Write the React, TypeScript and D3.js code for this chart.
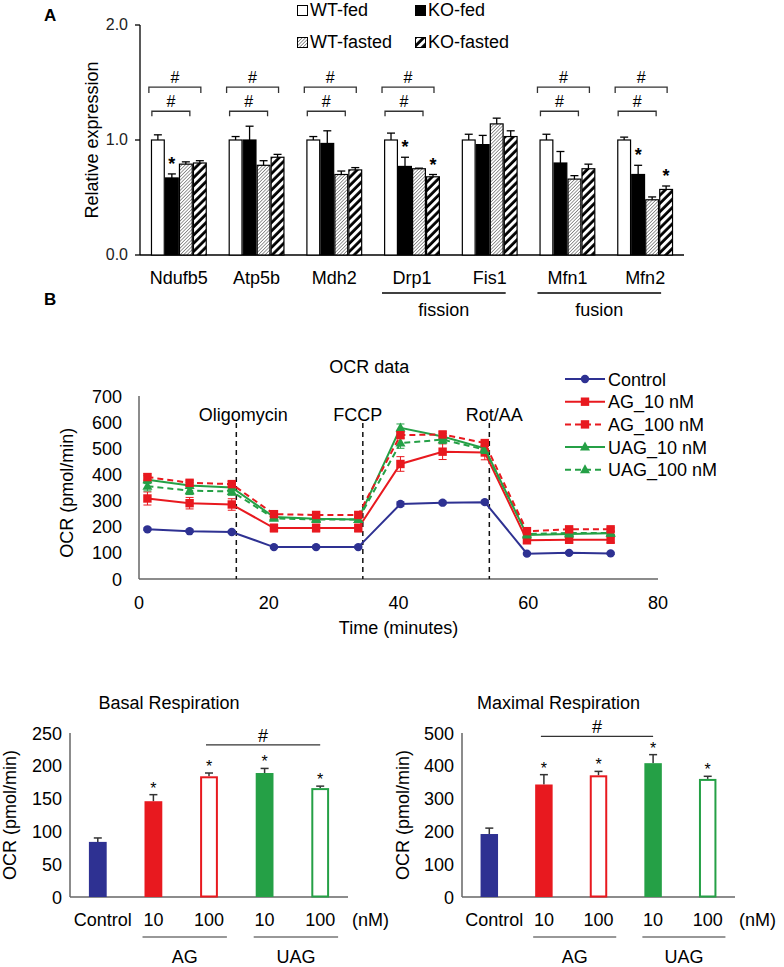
import React from 'react';
import * as d3 from 'd3';

// ---------- Panel A data ----------
const genes = ['Ndufb5', 'Atp5b', 'Mdh2', 'Drp1', 'Fis1', 'Mfn1', 'Mfn2'];
const groupsA = ['WT-fed', 'KO-fed', 'WT-fasted', 'KO-fasted'];
const wtFed = [1.0, 1.0, 1.0, 1.0, 1.0, 1.0, 1.0];
const wtFedErr = [0.045, 0.03, 0.03, 0.06, 0.05, 0.05, 0.025];
const koFed = [0.67, 1.0, 0.97, 0.77, 0.96, 0.8, 0.7];
const koFedErr = [0.035, 0.12, 0.11, 0.08, 0.08, 0.1, 0.08];
const wtFasted = [0.79, 0.78, 0.7, 0.75, 1.14, 0.66, 0.48];
const wtFastedErr = [0.02, 0.04, 0.03, 0.005, 0.05, 0.03, 0.025];
const koFasted = [0.8, 0.85, 0.74, 0.68, 1.03, 0.75, 0.57];
const koFastedErr = [0.02, 0.025, 0.02, 0.02, 0.05, 0.04, 0.03];
const koFedSig = [true, false, false, true, false, false, true];
const koFastedSig = [false, false, false, true, false, false, true];
const hashGenes = ['Ndufb5', 'Atp5b', 'Mdh2', 'Drp1', 'Mfn1', 'Mfn2'];
const yTicksA = [0, 1, 2];
const geneGroups = [
  { label: 'fission', genes: ['Drp1', 'Fis1'] },
  { label: 'fusion', genes: ['Mfn1', 'Mfn2'] },
];

// ---------- Panel B data ----------
const times = [1.3, 7.8, 14.3, 20.8, 27.3, 33.8, 40.3, 46.8, 53.3, 59.8, 66.3, 72.7];
const control = [190, 183, 180, 122, 122, 122, 287, 292, 294, 97, 100, 98];
const controlErr = [5, 5, 5, 4, 4, 4, 8, 6, 6, 4, 4, 4];
const ag10 = [308, 290, 285, 195, 195, 195, 440, 487, 484, 148, 150, 150];
const ag10Err = [25, 22, 22, 15, 15, 15, 28, 30, 28, 10, 10, 10];
const ag100 = [390, 368, 363, 248, 245, 245, 550, 553, 520, 183, 190, 190];
const ag100Err = [12, 10, 10, 8, 8, 8, 12, 10, 10, 6, 6, 6];
const uag10 = [380, 358, 350, 237, 230, 228, 578, 545, 500, 168, 172, 175];
const uag10Err = [15, 12, 12, 8, 8, 8, 15, 12, 12, 6, 6, 6];
const uag100 = [355, 338, 335, 232, 228, 228, 520, 533, 495, 172, 176, 176];
const uag100Err = [18, 15, 15, 8, 8, 8, 20, 15, 15, 6, 6, 6];
const injectionTimes = [15, 34.5, 54];
const injectionLabels = ['Oligomycin', 'FCCP', 'Rot/AA'];
const xTicksB = [0, 20, 40, 60, 80];
const yTicksB = [0, 100, 200, 300, 400, 500, 600, 700];

// ---------- Bottom panels data ----------
const treatments = ['Control', 'AG_10', 'AG_100', 'UAG_10', 'UAG_100'];
const doseLabels = ['Control', '10', '100', '10', '100'];
const basal = [84, 146, 184, 189, 166];
const basalErr = [6, 10, 5, 7, 3];
const maximal = [192, 343, 371, 408, 360];
const maximalErr = [18, 30, 12, 26, 8];
const bottomSig = [false, true, true, true, true];
const basalTicks = [0, 50, 100, 150, 200, 250];
const maximalTicks = [0, 100, 200, 300, 400, 500];

const BLUE = '#2e3192';
const RED = '#e8191f';
const GREEN = '#25a046';
const FONT = 'Liberation Sans, Arial, Helvetica, sans-serif';

const treatmentColor = [BLUE, RED, RED, GREEN, GREEN];
const treatmentHollow = [false, false, true, false, true];

function PanelA() {
  const xA = d3.scaleBand<string>().domain(genes).range([140, 684]).paddingInner(0.28).paddingOuter(0.14);
  const xAi = d3.scaleBand<string>().domain(groupsA).range([0, xA.bandwidth()]);
  const yA = d3.scaleLinear().domain([0, 2]).range([255, 25]);
  const series = [
    { key: 'WT-fed', vals: wtFed, errs: wtFedErr, fill: '#fff', sig: null as boolean[] | null },
    { key: 'KO-fed', vals: koFed, errs: koFedErr, fill: '#000', sig: koFedSig },
    { key: 'WT-fasted', vals: wtFasted, errs: wtFastedErr, fill: 'url(#fineHatch)', sig: null },
    { key: 'KO-fasted', vals: koFasted, errs: koFastedErr, fill: 'url(#thickHatch)', sig: koFastedSig },
  ];
  const bw = xAi.bandwidth();
  const legendPos = [
    { x: 297, y: 16 },
    { x: 415, y: 16 },
    { x: 297, y: 48 },
    { x: 415, y: 48 },
  ];
  return (
    <g fontFamily={FONT}>
      <text x={44} y={21} fontSize={17} fontWeight="bold">A</text>
      {/* legend */}
      {series.map((s, i) => (
        <g key={s.key}>
          <rect x={legendPos[i].x + 0.5} y={legendPos[i].y - 10.5} width={10} height={10} fill={s.fill} stroke="#000" strokeWidth={1} />
          <text x={legendPos[i].x + 13} y={legendPos[i].y} fontSize={18}>{s.key}</text>
        </g>
      ))}
      {/* axes */}
      <line x1={140} x2={140} y1={yA(2)} y2={yA(0)} stroke="#000" strokeWidth={1.3} />
      <line x1={140} x2={684} y1={yA(0)} y2={yA(0)} stroke="#000" strokeWidth={1.3} />
      {yTicksA.map((t) => (
        <g key={t}>
          <line x1={135} x2={140} y1={yA(t)} y2={yA(t)} stroke="#000" strokeWidth={1.3} />
          <text x={128} y={yA(t) + 5} fontSize={16} textAnchor="end" fill="#222">{t.toFixed(1)}</text>
        </g>
      ))}
      <text transform={`translate(98,${yA(1)}) rotate(-90)`} textAnchor="middle" fontSize={18}>Relative expression</text>
      {/* bars */}
      {genes.map((g, gi) => (
        <g key={g}>
          {series.map((s) => {
            const x = (xA(g) as number) + (xAi(s.key) as number);
            const v = s.vals[gi];
            const top = yA(v + s.errs[gi]);
            return (
              <g key={s.key}>
                <line x1={x + bw / 2} x2={x + bw / 2} y1={yA(v)} y2={top} stroke="#000" strokeWidth={1.3} />
                <line x1={x + bw / 2 - 4} x2={x + bw / 2 + 4} y1={top} y2={top} stroke="#000" strokeWidth={1.3} />
                <rect x={x + 0.6} y={yA(v)} width={bw - 1.2} height={yA(0) - yA(v)} fill={s.fill} stroke="#000" strokeWidth={1.2} />
                {s.sig && s.sig[gi] ? (
                  <text x={x + bw / 2} y={top - 4} textAnchor="middle" fontSize={18} fontWeight="bold">*</text>
                ) : null}
              </g>
            );
          })}
          <text x={(xA(g) as number) + xA.bandwidth() / 2} y={284} textAnchor="middle" fontSize={18}>{g}</text>
        </g>
      ))}
      {/* significance brackets */}
      {hashGenes.map((g) => {
        const g0 = xA(g) as number;
        const oy = yA(1.46);
        const iy = yA(1.25);
        const ox2 = g0 + (xAi('KO-fasted') as number) + bw / 2 + 1;
        const ix2 = g0 + (xAi('WT-fasted') as number) + bw / 2 + 4;
        return (
          <g key={g} stroke="#333" strokeWidth={1.3} fill="none">
            <path d={`M${g0 - 2},${oy + 6}V${oy}H${ox2}V${oy + 6}`} />
            <path d={`M${g0 + 1},${iy + 5}V${iy}H${ix2}V${iy + 5}`} />
            <text x={(g0 - 2 + ox2) / 2} y={oy - 4} textAnchor="middle" fontSize={16} fill="#000" stroke="none">#</text>
            <text x={(g0 + 1 + ix2) / 2} y={iy - 4} textAnchor="middle" fontSize={16} fill="#000" stroke="none">#</text>
          </g>
        );
      })}
      {/* gene groups */}
      {geneGroups.map((gg) => {
        const a = (xA(gg.genes[0]) as number) - 2;
        const b = (xA(gg.genes[gg.genes.length - 1]) as number) + xA.bandwidth() - 12;
        return (
          <g key={gg.label}>
            <line x1={a} x2={b} y1={293} y2={293} stroke="#000" strokeWidth={1.3} />
            <text x={(a + b) / 2} y={316} textAnchor="middle" fontSize={18}>{gg.label}</text>
          </g>
        );
      })}
    </g>
  );
}

function Marker({ type, x, y, color }: { type: string; x: number; y: number; color: string }) {
  if (type === 'circle') return <circle cx={x} cy={y} r={4.2} fill={color} />;
  if (type === 'square') return <rect x={x - 4.2} y={y - 4.2} width={8.4} height={8.4} fill={color} />;
  return <path d={`M${x},${y - 5.5}L${x + 5},${y + 3.5}L${x - 5},${y + 3.5}Z`} fill={color} />;
}

function PanelB() {
  const x = d3.scaleLinear().domain([0, 80]).range([139, 658]);
  const y = d3.scaleLinear().domain([0, 700]).range([579, 396]);
  const series = [
    { key: 'Control', vals: control, errs: controlErr, color: BLUE, dash: null as string | null, marker: 'circle' },
    { key: 'AG_10 nM', vals: ag10, errs: ag10Err, color: RED, dash: null, marker: 'square' },
    { key: 'AG_100 nM', vals: ag100, errs: ag100Err, color: RED, dash: '6,4', marker: 'square' },
    { key: 'UAG_10 nM', vals: uag10, errs: uag10Err, color: GREEN, dash: null, marker: 'triangle' },
    { key: 'UAG_100 nM', vals: uag100, errs: uag100Err, color: GREEN, dash: '6,4', marker: 'triangle' },
  ];
  const drawOrder = [0, 1, 3, 4, 2];
  const line = d3.line<number>().x((_, i) => x(times[i])).y((d) => y(d));
  return (
    <g fontFamily={FONT}>
      <text x={44} y={305} fontSize={17} fontWeight="bold">B</text>
      <text x={x(35.5)} y={373} textAnchor="middle" fontSize={18}>OCR data</text>
      {/* axes */}
      <line x1={139} x2={139} y1={y(700)} y2={y(0)} stroke="#666" strokeWidth={1.5} />
      <line x1={139} x2={x(80)} y1={y(0)} y2={y(0)} stroke="#666" strokeWidth={1.5} />
      {yTicksB.map((t) => (
        <text key={t} x={122} y={y(t) + 6.5} textAnchor="end" fontSize={18}>{t}</text>
      ))}
      {xTicksB.map((t) => (
        <text key={t} x={x(t)} y={609} textAnchor="middle" fontSize={18}>{t}</text>
      ))}
      <text x={x(40)} y={634} textAnchor="middle" fontSize={18}>Time (minutes)</text>
      <text transform={`translate(73,${y(330)}) rotate(-90)`} textAnchor="middle" fontSize={18}>OCR (pmol/min)</text>
      {/* injections */}
      {injectionTimes.map((t, i) => (
        <g key={t}>
          <line x1={x(t)} x2={x(t)} y1={423} y2={y(0)} stroke="#111" strokeWidth={1.5} strokeDasharray="5,4" />
          <text x={x(t) + (i === 0 ? 7 : i === 1 ? -5 : 5)} y={421} textAnchor="middle" fontSize={18}>{injectionLabels[i]}</text>
        </g>
      ))}
      {/* series */}
      {drawOrder.map((si) => {
        const s = series[si];
        return (
          <g key={s.key}>
            {s.vals.map((v, i) => (
              <g key={i} stroke={s.color} strokeWidth={1}>
                <line x1={x(times[i])} x2={x(times[i])} y1={y(v - s.errs[i])} y2={y(v + s.errs[i])} />
                <line x1={x(times[i]) - 4} x2={x(times[i]) + 4} y1={y(v - s.errs[i])} y2={y(v - s.errs[i])} />
                <line x1={x(times[i]) - 4} x2={x(times[i]) + 4} y1={y(v + s.errs[i])} y2={y(v + s.errs[i])} />
              </g>
            ))}
            <path d={line(s.vals) || ''} fill="none" stroke={s.color} strokeWidth={2} strokeDasharray={s.dash || undefined} />
            {s.vals.map((v, i) => (
              <Marker key={i} type={s.marker} x={x(times[i])} y={y(v)} color={s.color} />
            ))}
          </g>
        );
      })}
      {/* legend */}
      {series.map((s, i) => {
        const ly = 379 + i * 22.7;
        return (
          <g key={s.key}>
            <line x1={565} x2={605} y1={ly} y2={ly} stroke={s.color} strokeWidth={2} strokeDasharray={s.dash || undefined} />
            <Marker type={s.marker} x={585} y={ly} color={s.color} />
            <text x={608} y={ly + 6.5} fontSize={18}>{s.key}</text>
          </g>
        );
      })}
    </g>
  );
}

function BottomChart({ x0, x1, values, errs, ticks, title, hashFrom, hashTo, hashLevel, labelX }: {
  x0: number; x1: number; values: number[]; errs: number[]; ticks: number[]; title: string;
  hashFrom: string; hashTo: string; hashLevel: number; labelX: number;
}) {
  const xs = d3.scaleBand<string>().domain(treatments).range([x0, x1]).paddingInner(0.68).paddingOuter(0.34);
  const ys = d3.scaleLinear().domain([0, ticks[ticks.length - 1]]).range([897, 733]);
  const bw = xs.bandwidth();
  const cx = (k: string) => (xs(k) as number) + bw / 2;
  const hy = ys(hashLevel);
  return (
    <g fontFamily={FONT}>
      <text x={(x0 + x1) / 2 - 40} y={709} textAnchor="middle" fontSize={18}>{title}</text>
      <line x1={x0} x2={x0} y1={733} y2={897} stroke="#666" strokeWidth={1.5} />
      <line x1={x0} x2={x1} y1={897} y2={897} stroke="#666" strokeWidth={1.5} />
      {ticks.map((t) => (
        <text key={t} x={x0 - 8} y={ys(t) + 6.5} textAnchor="end" fontSize={18}>{t}</text>
      ))}
      <text transform={`translate(${labelX},${ys(ticks[ticks.length - 1] / 2)}) rotate(-90)`} textAnchor="middle" fontSize={18}>OCR (pmol/min)</text>
      {treatments.map((k, i) => {
        const x = xs(k) as number;
        const v = values[i];
        const top = ys(v + errs[i]);
        return (
          <g key={k}>
            <line x1={x + bw / 2} x2={x + bw / 2} y1={ys(v)} y2={top} stroke="#333" strokeWidth={1.5} />
            <line x1={x + bw / 2 - 4} x2={x + bw / 2 + 4} y1={top} y2={top} stroke="#333" strokeWidth={1.5} />
            {treatmentHollow[i] ? (
              <rect x={x + 1} y={ys(v) + 1} width={bw - 2} height={ys(0) - ys(v) - 1.5} fill="#fff" stroke={treatmentColor[i]} strokeWidth={2} />
            ) : (
              <rect x={x} y={ys(v)} width={bw} height={ys(0) - ys(v)} fill={treatmentColor[i]} />
            )}
            {bottomSig[i] ? (
              <text x={x + bw / 2} y={top - 1} textAnchor="middle" fontSize={16}>*</text>
            ) : null}
            <text x={x + bw / 2 + (i === 0 ? 5 : 0)} y={926} textAnchor="middle" fontSize={18}>{doseLabels[i]}</text>
          </g>
        );
      })}
      <text x={x1 + 4} y={926} fontSize={18}>(nM)</text>
      {/* hash bracket */}
      <line x1={cx(hashFrom) - 3} x2={cx(hashTo)} y1={hy} y2={hy} stroke="#333" strokeWidth={1.3} />
      <text x={(cx(hashFrom) - 3 + cx(hashTo)) / 2} y={hy - 3} textAnchor="middle" fontSize={18}>#</text>
      {/* group underlines */}
      {[['AG', 'AG_10', 'AG_100'], ['UAG', 'UAG_10', 'UAG_100']].map(([lab, a, b]) => {
        const l = (xs(a) as number) - 2;
        const r = (xs(b) as number) + bw + 9;
        return (
          <g key={lab}>
            <line x1={l} x2={r} y1={937} y2={937} stroke="#333" strokeWidth={1.2} />
            <text x={(l + r) / 2} y={963} textAnchor="middle" fontSize={18}>{lab}</text>
          </g>
        );
      })}
    </g>
  );
}

export default function App() {
  return (
    <svg width={784} height={967} style={{ position: 'absolute', left: 0, top: 0, background: '#fff' }}>
      <defs>
        <pattern id="fineHatch" width={2.4} height={2.4} patternUnits="userSpaceOnUse" patternTransform="rotate(45)">
          <rect width={2.4} height={2.4} fill="#fff" />
          <line x1={0} y1={0} x2={0} y2={2.4} stroke="#444" strokeWidth={1.1} />
        </pattern>
        <pattern id="thickHatch" width={5.8} height={5.8} patternUnits="userSpaceOnUse" patternTransform="rotate(45)">
          <rect width={5.8} height={5.8} fill="#fff" />
          <line x1={1.5} y1={0} x2={1.5} y2={5.8} stroke="#000" strokeWidth={2.8} />
        </pattern>
      </defs>
      <rect width={784} height={967} fill="#fff" />
      <PanelA />
      <PanelB />
      <BottomChart x0={70} x1={348} values={basal} errs={basalErr} ticks={basalTicks} title="Basal Respiration"
        hashFrom="AG_100" hashTo="UAG_100" hashLevel={232} labelX={16} />
      <BottomChart x0={462} x1={735} values={maximal} errs={maximalErr} ticks={maximalTicks} title="Maximal Respiration"
        hashFrom="AG_10" hashTo="UAG_10" hashLevel={490} labelX={409} />
    </svg>
  );
}
